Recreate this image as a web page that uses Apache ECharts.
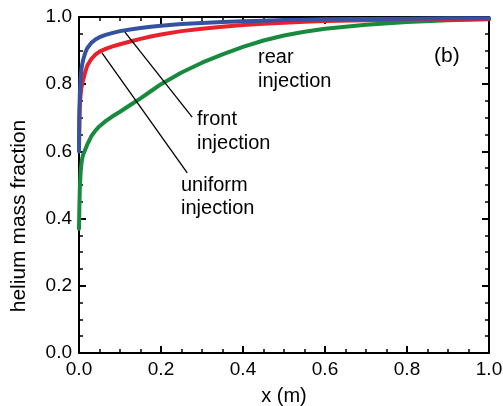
<!DOCTYPE html>
<html>
<head>
<meta charset="utf-8">
<script src="https://cdn.jsdelivr.net/npm/echarts@6/dist/echarts.min.js"></script>
<style>
  html, body { margin: 0; padding: 0; background: #fff; }
  #chart { width: 503px; height: 406px; }
</style>
</head>
<body>
<div id="chart"></div>
<script>
// x positions (m)
const xs = [0, 0.001, 0.002, 0.004, 0.006, 0.008, 0.01, 0.015, 0.02, 0.03, 0.04, 0.05, 0.065, 0.08, 0.1,
  0.125, 0.15, 0.175, 0.2, 0.25, 0.3, 0.35, 0.4, 0.45, 0.5, 0.55, 0.6, 0.7, 0.8, 0.9, 1.0]
// helium mass fraction per injection mode
const front = [0.6, 0.72, 0.77, 0.82, 0.845, 0.86, 0.872, 0.893, 0.907, 0.923, 0.933, 0.94, 0.947, 0.952, 0.958,
  0.963, 0.967, 0.971, 0.974, 0.979, 0.982, 0.985, 0.987, 0.989, 0.991, 0.992, 0.993, 0.994, 0.995, 0.996, 0.996]
const uniform = [0.62, 0.7, 0.735, 0.77, 0.79, 0.802, 0.812, 0.835, 0.855, 0.875, 0.888, 0.897, 0.905, 0.912, 0.919,
  0.927, 0.935, 0.942, 0.948, 0.958, 0.965, 0.971, 0.976, 0.98, 0.983, 0.986, 0.988, 0.99, 0.992, 0.993, 0.994]
const rear = [0.37, 0.44, 0.49, 0.54, 0.565, 0.58, 0.59, 0.605, 0.62, 0.645, 0.662, 0.675, 0.69, 0.703, 0.718,
  0.738, 0.758, 0.779, 0.8, 0.835, 0.864, 0.889, 0.911, 0.93, 0.945, 0.956, 0.965, 0.977, 0.985, 0.99, 0.993]
const tickLabels = ['0.0', '0.2', '0.4', '0.6', '0.8', '1.0']

// pointer lines for the annotations (data coords)
const frontPointer = [[0.112, 0.955], [0.276, 0.702]]
const uniformPointer = [[0.056, 0.893], [0.264, 0.536]]

const font = 'Liberation Sans, Arial, sans-serif'

function pairs(ys) {
  return xs.map((x, i) => [x, ys[i]])
}

function axis(extra) {
  return {
    type: 'value',
    min: 0,
    max: 1,
    interval: 0.2,
    axisLine: { show: true, onZero: false, lineStyle: { color: '#000', width: 2 } },
    axisTick: { show: true, inside: true, length: 7, lineStyle: { color: '#000', width: 2 } },
    minorTick: { show: true, splitNumber: 4, length: 4, lineStyle: { color: '#000', width: 1.5 } },
    splitLine: { show: false },
    ...extra
  }
}

function tickText(margin) {
  return {
    show: true,
    color: '#000',
    fontSize: 19,
    fontFamily: font,
    margin,
    formatter: v => tickLabels[Math.round(v * 5)]
  }
}

function pointer(p) {
  return {
    silent: true,
    symbol: 'none',
    label: { show: false },
    lineStyle: { color: '#000', width: 1.3, type: 'solid' },
    data: [[{ coord: p[0] }, { coord: p[1] }]]
  }
}

function curve(name, ys, color, ptr) {
  const s = {
    name,
    type: 'line',
    data: pairs(ys),
    showSymbol: false,
    smooth: false,
    lineStyle: { color, width: 4, join: 'round', cap: 'round' },
    z: 3
  }
  if (ptr) s.markLine = pointer(ptr)
  return s
}

function note(text, x, y, size) {
  return {
    type: 'text',
    x,
    y,
    style: { text, font: (size || 20) + 'px ' + font, fill: '#000', verticalAlign: 'middle' }
  }
}

const chart = echarts.init(document.getElementById('chart'))
chart.setOption({
  animation: false,
  backgroundColor: '#fff',
  grid: { left: 79, right: 14, top: 17, bottom: 53, outerBoundsMode: 'none' },
  xAxis: [
    axis({
      position: 'bottom',
      name: 'x (m)',
      nameLocation: 'middle',
      nameGap: 33,
      nameTextStyle: { color: '#000', fontSize: 20, fontFamily: font },
      axisLabel: tickText(7)
    }),
    axis({ position: 'top', axisLabel: { show: false } })
  ],
  yAxis: [
    axis({ position: 'left', axisLabel: tickText(7) }),
    axis({ position: 'right', axisLabel: { show: false } })
  ],
  series: [
    curve('rear injection', rear, '#178a3e'),
    curve('uniform injection', uniform, '#e9212b', uniformPointer),
    curve('front injection', front, '#3551a2', frontPointer)
  ],
  graphic: [
    {
      type: 'text',
      x: 19,
      y: 216,
      rotation: Math.PI / 2,
      style: { text: 'helium mass fraction', font: '21px ' + font, fill: '#000', align: 'center', verticalAlign: 'middle' }
    },
    note('front', 197, 119),
    note('injection', 197, 143),
    note('uniform', 181, 185),
    note('injection', 181, 208),
    note('rear', 258, 57),
    note('injection', 258, 81),
    note('(b)', 434, 56, 21)
  ]
})
</script>
</body>
</html>
